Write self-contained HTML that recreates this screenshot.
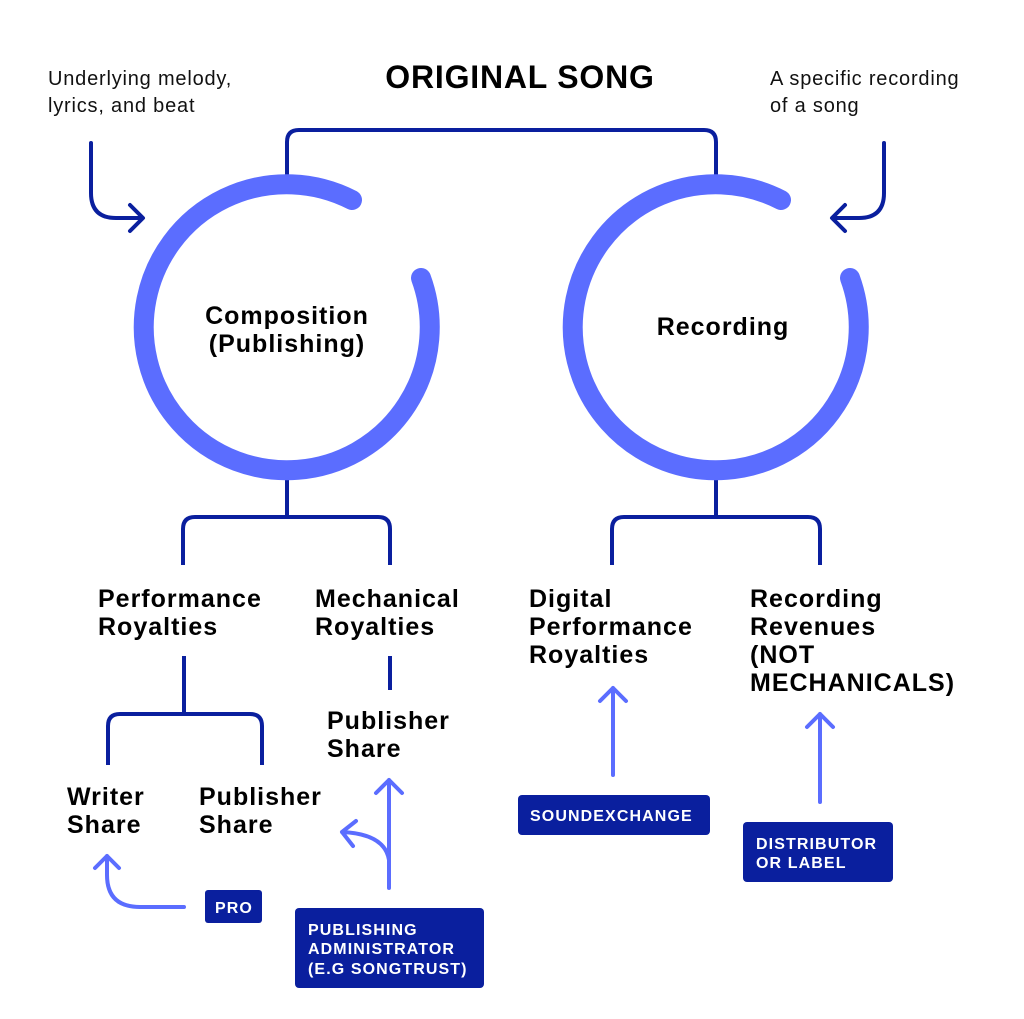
<!DOCTYPE html>
<html><head><meta charset="utf-8"><style>
html,body{margin:0;padding:0;background:#fff;}
svg{display:block;}
.b{font-family:"Liberation Sans",sans-serif;font-weight:bold;font-size:25px;letter-spacing:1px;fill:#000;}
.s{font-family:"Liberation Sans",sans-serif;font-size:20px;letter-spacing:0.8px;fill:#111;}
.w{font-family:"Liberation Sans",sans-serif;font-weight:bold;font-size:16px;letter-spacing:1.1px;fill:#fff;}
</style></head><body>
<svg width="1024" height="1019" viewBox="0 0 1024 1019" xmlns="http://www.w3.org/2000/svg">
<rect width="1024" height="1019" fill="#fff"/>
<g fill="none" stroke="#0a1f9e" stroke-width="4" stroke-linecap="butt">
<path d="M287,175 V142 Q287,130 299,130 H704 Q716,130 716,142 V175"/>
<path d="M287,478 V517"/>
<path d="M183,565 V529 Q183,517 195,517 H378 Q390,517 390,529 V565"/>
<path d="M716,478 V517"/>
<path d="M612,565 V529 Q612,517 624,517 H808 Q820,517 820,529 V565"/>
<path d="M184,656 V714"/>
<path d="M108,765 V726 Q108,714 120,714 H250 Q262,714 262,726 V765"/>
<path d="M390,656 V690"/>
<path d="M91,143 V193 Q91,218 116,218 H142 M130,205 L143,218 L130,231" stroke-linecap="round" stroke-linejoin="round"/>
<path d="M884,143 V193 Q884,218 859,218 H833 M845,205 L832,218 L845,231" stroke-linecap="round" stroke-linejoin="round"/>
</g>
<g fill="none" stroke="#5b6dff" stroke-width="20" stroke-linecap="round">
<path d="M421,278 A143,143 0 1 1 352,200"/>
<path d="M850,278 A143,143 0 1 1 781,200"/>
</g>
<g fill="none" stroke="#5b6dff" stroke-width="4" stroke-linecap="round" stroke-linejoin="round">
<path d="M613,775 V688 M600,701 L613,688 L626,701"/>
<path d="M820,802 V714 M807,727 L820,714 L833,727"/>
<path d="M184,907 H140 Q107,907 107,875 V856 M95,868 L107,856 L119,868"/>
<path d="M389,888 V780 M376,793 L389,780 L402,793"/>
<path d="M389,860 Q385,834 342,832 M356,821 L342,832 L353,846"/>
</g>
<g fill="#0a1f9e">
<rect x="518" y="795" width="192" height="40" rx="4"/>
<rect x="743" y="822" width="150" height="60" rx="4"/>
<rect x="205" y="890" width="57" height="33" rx="3"/>
<rect x="295" y="908" width="189" height="80" rx="4"/>
</g>
<text x="520" y="88" text-anchor="middle" style="font-family:'Liberation Sans',sans-serif;font-weight:bold;font-size:32px;letter-spacing:0.8px;">ORIGINAL SONG</text>
<text class="s" x="48" y="85">Underlying melody,</text>
<text class="s" x="48" y="112">lyrics, and beat</text>
<text class="s" x="770" y="85">A specific recording</text>
<text class="s" x="770" y="112">of a song</text>
<text class="b" x="287" y="324" text-anchor="middle">Composition</text>
<text class="b" x="287" y="352" text-anchor="middle">(Publishing)</text>
<text class="b" x="723" y="335" text-anchor="middle">Recording</text>
<text class="b" x="98" y="607">Performance</text>
<text class="b" x="98" y="635">Royalties</text>
<text class="b" x="315" y="607">Mechanical</text>
<text class="b" x="315" y="635">Royalties</text>
<text class="b" x="529" y="607">Digital</text>
<text class="b" x="529" y="635">Performance</text>
<text class="b" x="529" y="663">Royalties</text>
<text class="b" x="750" y="607">Recording</text>
<text class="b" x="750" y="635">Revenues</text>
<text class="b" x="750" y="663">(NOT</text>
<text class="b" x="750" y="691">MECHANICALS)</text>
<text class="b" x="327" y="729">Publisher</text>
<text class="b" x="327" y="757">Share</text>
<text class="b" x="67" y="805">Writer</text>
<text class="b" x="67" y="833">Share</text>
<text class="b" x="199" y="805">Publisher</text>
<text class="b" x="199" y="833">Share</text>
<text class="w" x="530" y="821">SOUNDEXCHANGE</text>
<text class="w" x="756" y="849">DISTRIBUTOR</text>
<text class="w" x="756" y="868">OR LABEL</text>
<text class="w" x="215" y="913">PRO</text>
<text class="w" x="308" y="935">PUBLISHING</text>
<text class="w" x="308" y="954">ADMINISTRATOR</text>
<text class="w" x="308" y="974">(E.G SONGTRUST)</text>
</svg>
</body></html>
